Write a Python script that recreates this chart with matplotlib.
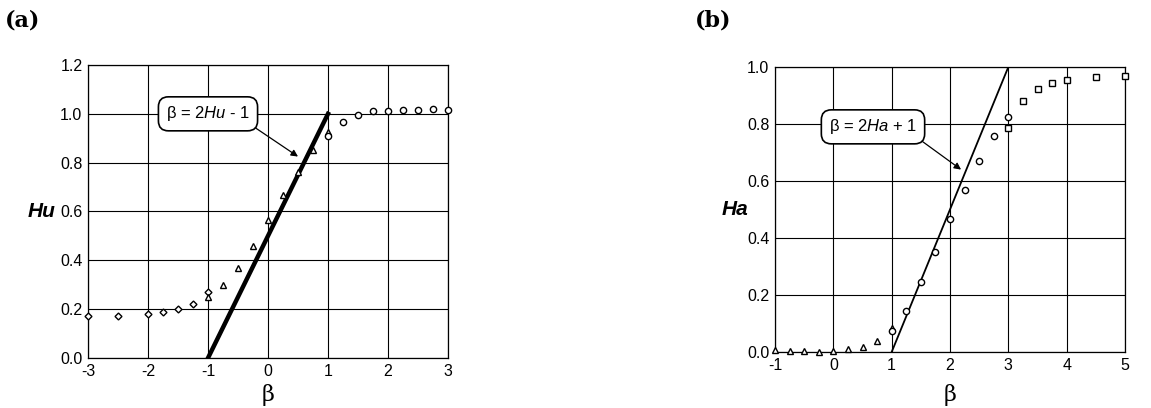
import numpy as np
import matplotlib.pyplot as plt

# panel (a): Hu vs beta
a_dia_x = [-3, -2.5, -2, -1.75, -1.5, -1.25, -1]
a_dia_y = [0.17, 0.173, 0.18, 0.19, 0.20, 0.22, 0.27]
a_tri_x = [-1, -0.75, -0.5, -0.25, 0, 0.25, 0.5, 0.75, 1]
a_tri_y = [0.25, 0.30, 0.37, 0.46, 0.565, 0.667, 0.76, 0.85, 0.925]
a_cir_x = [1, 1.25, 1.5, 1.75, 2, 2.25, 2.5, 2.75, 3]
a_cir_y = [0.91, 0.965, 0.995, 1.01, 1.012, 1.016, 1.016, 1.02, 1.015]
a_line_x = [-1, 1]
a_line_y = [0, 1]

# panel (b): Ha vs beta
b_tri_x = [-1, -0.75, -0.5, -0.25, 0, 0.25, 0.5, 0.75, 1]
b_tri_y = [0.006, 0.003, 0.002, 0.001, 0.003, 0.01, 0.019, 0.037, 0.084]
b_cir_x = [1, 1.25, 1.5, 1.75, 2, 2.25, 2.5, 2.75, 3]
b_cir_y = [0.073, 0.144, 0.245, 0.35, 0.465, 0.57, 0.67, 0.757, 0.825]
b_sq_x = [3, 3.25, 3.5, 3.75, 4, 4.5, 5]
b_sq_y = [0.785, 0.88, 0.924, 0.945, 0.955, 0.965, 0.97]
b_line_x = [1, 3]
b_line_y = [0, 1]

plt.rcParams['font.family'] = ['Liberation Sans', 'DejaVu Sans']
plt.rcParams['axes.unicode_minus'] = False
plt.rcParams['mathtext.fontset'] = 'custom'
plt.rcParams['mathtext.it'] = 'Liberation Sans:italic'
plt.rcParams['mathtext.rm'] = 'Liberation Sans'

W, H = 1151, 408
fig = plt.figure(figsize=(W / 100, H / 100), dpi=100)

def px_axes(x0, y0, x1, y1):
    return fig.add_axes([x0 / W, 1 - y1 / H, (x1 - x0) / W, (y1 - y0) / H])

mk = dict(ls='none', mfc='white', mec='black', mew=1.0, ms=4.5, clip_on=False, zorder=4)

def style(ax):
    ax.grid(True, color='black', lw=0.8)
    ax.set_axisbelow(True)
    ax.tick_params(length=0, labelsize=11.5, pad=4)
    for s in ax.spines.values():
        s.set_linewidth(0.9)

# (a)
ax1 = px_axes(88, 65, 448, 358)
ax1.plot(a_line_x, a_line_y, color='black', lw=3.2, zorder=3)
ax1.plot(a_dia_x, a_dia_y, marker='D', **{**mk, 'ms': 3.5})
ax1.plot(a_tri_x, a_tri_y, marker='^', **mk)
ax1.plot(a_cir_x, a_cir_y, marker='o', **mk)
ax1.set_xlim(-3, 3)
ax1.set_ylim(0, 1.2)
ax1.set_xticks(np.arange(-3, 4, 1))
ax1.set_yticks(np.arange(0, 1.21, 0.2))
ax1.yaxis.set_major_formatter(plt.FormatStrFormatter('%.1f'))
style(ax1)
ax1.set_xlabel('β', family='DejaVu Serif', fontsize=16, labelpad=4)
ax1.text(-0.09, 0.5, 'Hu', transform=ax1.transAxes, fontsize=15,
         fontweight='bold', fontstyle='italic', ha='right', va='center')
ax1.annotate('β = 2$\\mathit{Hu}$ - 1', xy=(0.5, 0.825), xytext=(-1.0, 1.0),
             fontsize=12, ha='center', va='center', zorder=5,
             bbox=dict(boxstyle='round,pad=0.45,rounding_size=0.6', fc='white', ec='black', lw=1.2),
             arrowprops=dict(arrowstyle='-|>', color='black', lw=0.9, mutation_scale=10,
                             shrinkA=0, shrinkB=0, relpos=(0.95, 0.1)))

# (b)
ax2 = px_axes(775, 67, 1125, 352)
ax2.plot(b_line_x, b_line_y, color='black', lw=1.3, zorder=3)
ax2.plot(b_tri_x, b_tri_y, marker='^', **mk)
ax2.plot(b_cir_x, b_cir_y, marker='o', **mk)
ax2.plot(b_sq_x, b_sq_y, marker='s', **mk)
ax2.set_xlim(-1, 5)
ax2.set_ylim(0, 1.0)
ax2.set_xticks(np.arange(-1, 6, 1))
ax2.set_yticks(np.arange(0, 1.01, 0.2))
ax2.yaxis.set_major_formatter(plt.FormatStrFormatter('%.1f'))
style(ax2)
ax2.set_xlabel('β', family='DejaVu Serif', fontsize=16, labelpad=8)
ax2.text(-0.077, 0.5, 'Ha', transform=ax2.transAxes, fontsize=15,
         fontweight='bold', fontstyle='italic', ha='right', va='center')
ax2.annotate('β = 2$\\mathit{Ha}$ + 1', xy=(2.19, 0.64), xytext=(0.68, 0.79),
             fontsize=12, ha='center', va='center', zorder=5,
             bbox=dict(boxstyle='round,pad=0.45,rounding_size=0.6', fc='white', ec='black', lw=1.2),
             arrowprops=dict(arrowstyle='-|>', color='black', lw=0.9, mutation_scale=10,
                             shrinkA=0, shrinkB=0, relpos=(0.95, 0.1)))

fig.text(5 / W, 1 - 20 / H, '(a)', family='DejaVu Serif', fontweight='bold', fontsize=16, va='center')
fig.text(695 / W, 1 - 20 / H, '(b)', family='DejaVu Serif', fontweight='bold', fontsize=16, va='center')

fig.savefig('out.png', dpi=100)
